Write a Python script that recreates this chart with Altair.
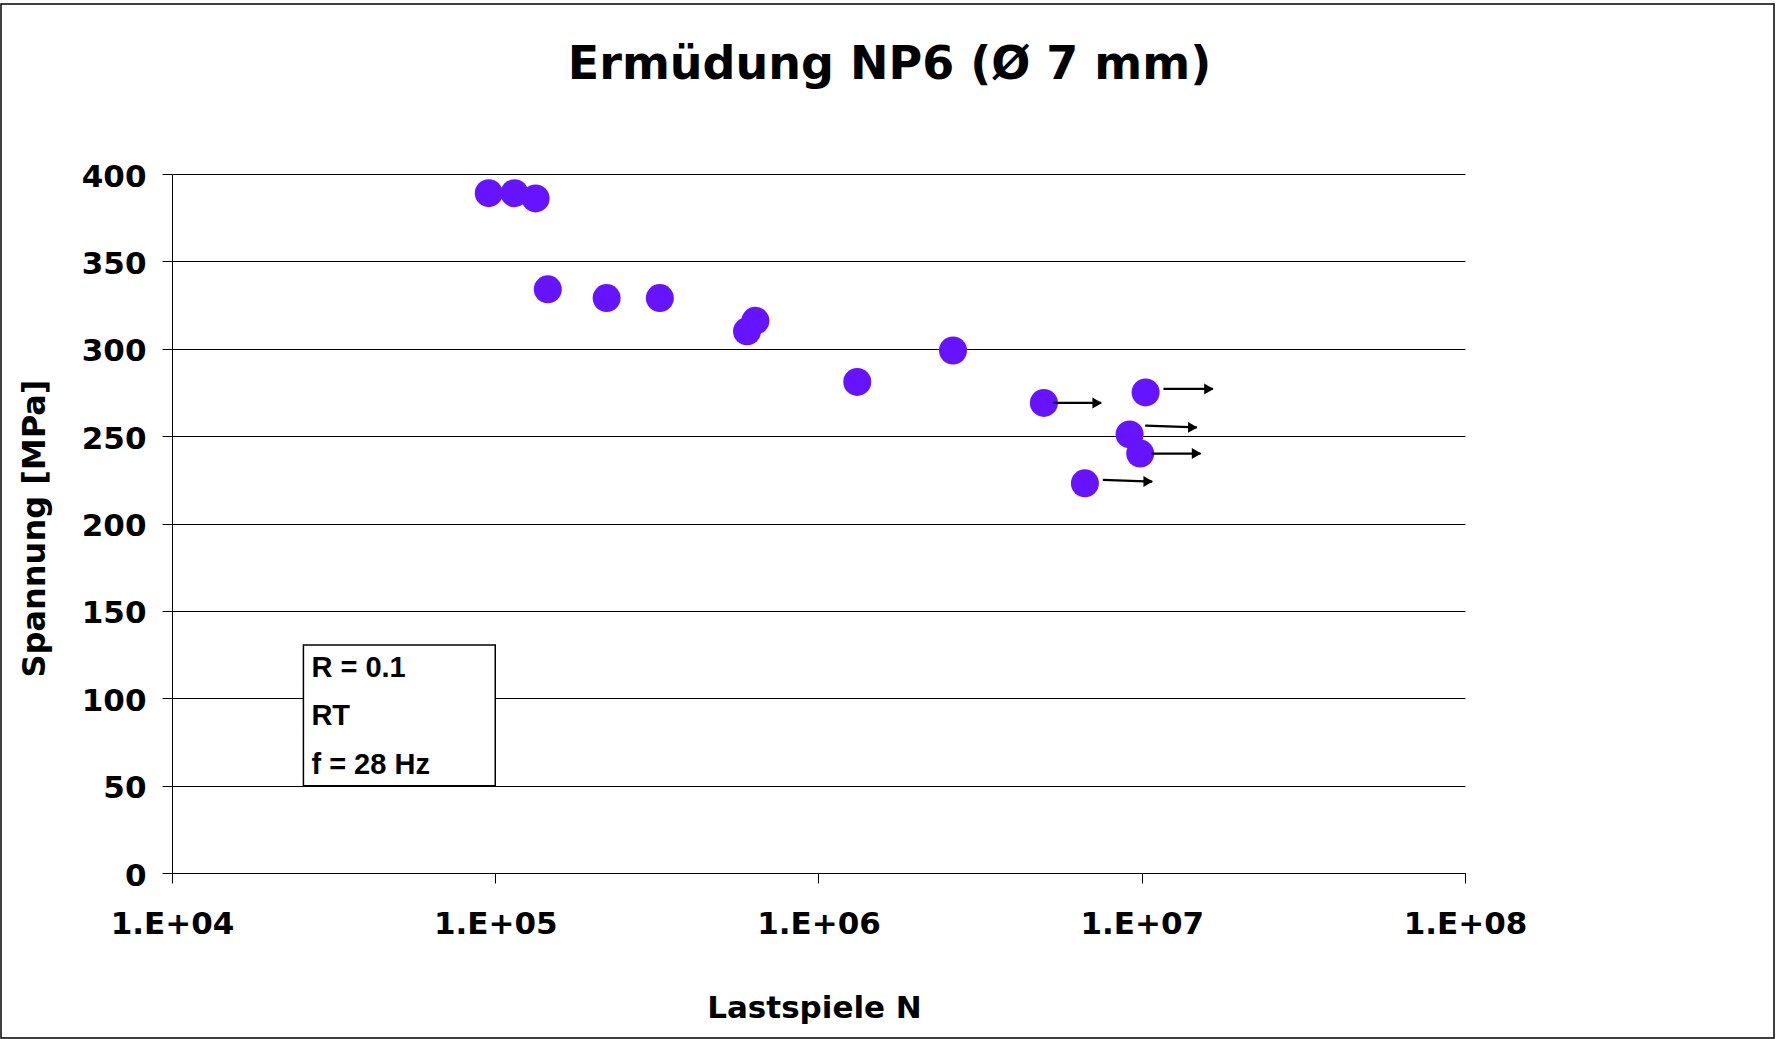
import altair as alt
import pandas as pd

# ---------------- data ----------------
title_text = "Ermüdung NP6 (Ø 7 mm)"
x_title = "Lastspiele N"
y_title = "Spannung [MPa]"

# broken specimens
n_broken = [9.55e4, 1.147e5, 1.333e5, 1.454e5, 2.211e5, 3.23e5, 6.01e5, 6.38e5, 1.318e6, 2.607e6]
s_broken = [389, 389, 386, 334, 329, 329, 310, 316, 281, 299]

# run-outs (with arrows)
n_runout = [4.98e6, 1.028e7, 9.17e6, 9.89e6, 6.67e6]
s_runout = [269, 275, 251, 240, 223]
arrow_n_start = [5.33e6, 1.167e7, 1.025e7, 1.074e7, 7.58e6]
arrow_n_end = [7.49e6, 1.66e7, 1.48e7, 1.52e7, 1.077e7]
arrow_s_start = [269, 277, 256, 240, 225]
arrow_s_end = [269, 277, 255, 240, 224]

x_ticks = [1e4, 1e5, 1e6, 1e7, 1e8]
x_tick_labels = ["1.E+04", "1.E+05", "1.E+06", "1.E+07", "1.E+08"]
y_ticks = [0, 50, 100, 150, 200, 250, 300, 350, 400]

box_lines = ["R = 0.1", "RT", "f = 28 Hz"]
box_n = [2.55e4, 1.0e5]
box_s = [50, 130.5]

# ---------------- tables ----------------
df_points = pd.DataFrame({
    "N": n_broken + n_runout,
    "S": s_broken + s_runout,
})
df_arrows = pd.DataFrame({
    "n0": arrow_n_start, "n1": arrow_n_end,
    "s0": arrow_s_start, "s1": arrow_s_end,
})
df_box = pd.DataFrame({"n0": [box_n[0]], "n1": [box_n[1]],
                       "s0": [box_s[0]], "s1": [box_s[1]]})
df_one = pd.DataFrame({"k": [0]})

W, H = 1293, 699
FONT = "DejaVu Sans"

x_scale = alt.Scale(type="log", domain=[x_ticks[0], x_ticks[-1]], nice=False)
y_scale = alt.Scale(domain=[y_ticks[0], y_ticks[-1]], nice=False, zero=False)

label_array = "[" + ",".join(f"'{l}'" for l in x_tick_labels) + "]"

x_axis = alt.Axis(
    values=x_ticks, labelExpr=label_array + "[round(log(datum.value)/LN10) - 4]",
    title=x_title, grid=False, domainColor="black", domainWidth=1,
    tickColor="black", tickSize=10, tickWidth=1,
    labelFont=FONT, labelFontSize=31, labelFontWeight="bold", labelColor="black",
    labelPadding=26, labelFlush=False, labelOverlap=False,
    titleFont=FONT, titleFontSize=31, titleFontWeight="bold", titleColor="black",
    titleX=642, titleY=144, titleBaseline="alphabetic", titleAlign="center",
)
y_axis = alt.Axis(
    values=y_ticks, title=y_title, grid=True, gridColor="black", gridWidth=1,
    domainColor="black", domainWidth=1, tickColor="black", tickSize=10, tickWidth=1,
    labelFont=FONT, labelFontSize=31, labelFontWeight="bold", labelColor="black",
    labelPadding=16, labelFlush=False, labelOverlap=False, labelOffset=3,
    titleFont=FONT, titleFontSize=32, titleFontWeight="bold", titleColor="black",
    titleAngle=270, titleX=-128, titleY=354, titleBaseline="alphabetic",
    titleAlign="center",
)

frame = alt.Chart(df_one).mark_rect(
    fill="transparent", stroke="black", strokeWidth=1.5
).encode(
    x=alt.value(-171), x2=alt.value(1602), y=alt.value(-170), y2=alt.value(864)
)

points = alt.Chart(df_points).mark_circle(size=784, color="#6614FF", opacity=1).encode(
    x=alt.X("N:Q", scale=x_scale, axis=x_axis),
    y=alt.Y("S:Q", scale=y_scale, axis=y_axis),
)

shafts = alt.Chart(df_arrows).mark_rule(color="black", strokeWidth=2.2).encode(
    x=alt.X("n0:Q", scale=x_scale, axis=x_axis),
    x2="n1:Q",
    y=alt.Y("s0:Q", scale=y_scale, axis=y_axis),
    y2="s1:Q",
)
heads = alt.Chart(df_arrows).mark_point(
    shape="triangle-right", filled=True, size=120, color="black", opacity=1, xOffset=-4
).encode(
    x=alt.X("n1:Q", scale=x_scale, axis=x_axis),
    y=alt.Y("s1:Q", scale=y_scale, axis=y_axis),
)

box = alt.Chart(df_box).mark_rect(fill="white", stroke="black", strokeWidth=1.5).encode(
    x=alt.X("n0:Q", scale=x_scale, axis=x_axis),
    x2="n1:Q",
    y=alt.Y("s1:Q", scale=y_scale, axis=y_axis),
    y2="s0:Q",
)
box_text = alt.Chart(df_box).mark_text(
    text=box_lines, font="Liberation Sans", fontSize=29, fontWeight="bold",
    color="black", align="left", baseline="top", lineHeight=48.5, dx=8, dy=9,
).encode(
    x=alt.X("n0:Q", scale=x_scale, axis=x_axis),
    y=alt.Y("s1:Q", scale=y_scale, axis=y_axis),
)

chart = alt.layer(points, box, box_text, shafts, heads, frame).properties(
    width=W, height=H,
    title=alt.TitleParams(
        text=title_text, font=FONT, fontSize=46, fontWeight="bold", color="black",
        anchor="middle", frame="group", dx=71, offset=-122, baseline="alphabetic",
    ),
    autosize=alt.AutoSizeParams(type="none"),
    padding={"left": 172, "top": 174, "right": 312, "bottom": 166},
).configure(background="white").configure_view(stroke="transparent")

chart.save("out.html", embed_options={"renderer": "svg", "actions": False})
